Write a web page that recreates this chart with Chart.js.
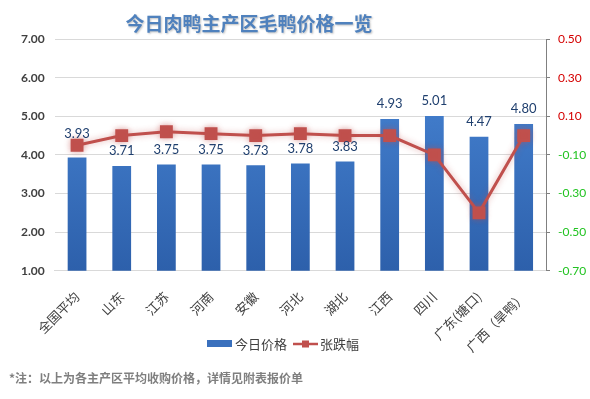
<!DOCTYPE html>
<html>
<head>
<meta charset="utf-8">
<script src="https://cdn.jsdelivr.net/npm/chart.js@4/dist/chart.umd.min.js"></script>
<style>
  html, body { margin: 0; padding: 0; background: #fff; }
  #wrap { width: 590px; height: 399px; position: relative; }
</style>
</head>
<body>
<div id="wrap"><canvas id="chart" width="590" height="399"></canvas></div>
<script>
// data
const categories = ['全国平均', '山东', '江苏', '河南', '安徽', '河北', '湖北', '江西', '四川', '广东(塘口)', '广西（旱鸭）'];
const prices = [3.93, 3.71, 3.75, 3.75, 3.73, 3.78, 3.83, 4.93, 5.01, 4.47, 4.80];
const changes = [-0.05, 0.00, 0.02, 0.01, 0.00, 0.01, 0.00, 0.00, -0.10, -0.40, 0.00];
const priceTicks = [1, 2, 3, 4, 5, 6, 7];
const changeTicks = [-0.7, -0.5, -0.3, -0.1, 0.1, 0.3, 0.5];

const titleText = '今日肉鸭主产区毛鸭价格一览';
const noteText = '*注：以上为各主产区平均收购价格，详情见附表报价单';
const legendNames = ['今日价格', '张跌幅'];

const CJK = "'Noto Sans CJK SC', sans-serif";
const NUM = "Lato, 'Noto Sans CJK SC', sans-serif";
Chart.defaults.font.family = NUM;

const BAR_TOP = '#4a88d8';
const BAR_BOTTOM = '#2d60ab';
const LINE = '#c0504d';

function barGradient(context) {
    const area = context.chart.chartArea;
    if (!area) return BAR_TOP;
    const g = context.chart.ctx.createLinearGradient(0, area.top, 0, area.bottom);
    g.addColorStop(0, BAR_TOP);
    g.addColorStop(1, BAR_BOTTOM);
    return g;
}

// title, value labels, legend and footnote
const decorations = {
    id: 'decorations',
    beforeDatasetDraw(chart, args) {
        if (args.index === 1) {
            const ctx = chart.ctx;
            ctx.save();
            ctx.shadowColor = 'rgba(192, 80, 77, 0.45)';
            ctx.shadowBlur = 6;
        }
    },
    afterDatasetDraw(chart, args) {
        if (args.index === 1) chart.ctx.restore();
    },
    afterDatasetsDraw(chart) {
        const ctx = chart.ctx;
        const bars = chart.getDatasetMeta(0).data;
        const points = chart.getDatasetMeta(1).data;
        ctx.save();
        ctx.font = '13px ' + NUM;
        ctx.fillStyle = '#1f3f6e';
        ctx.textAlign = 'center';
        ctx.textBaseline = 'middle';
        bars.forEach((bar, i) => {
            let y = bar.y - 15;
            const py = points[i].y;
            // keep the label clear of the line marker
            if (Math.abs(y - py) < 8) y = py - 11;
            ctx.fillText(prices[i].toFixed(2), bar.x, y);
        });
        ctx.restore();
    },
    afterDraw(chart) {
        const ctx = chart.ctx;
        ctx.save();
        // title
        ctx.font = 'bold 19px ' + CJK;
        ctx.textAlign = 'center';
        ctx.textBaseline = 'middle';
        ctx.shadowColor = 'rgba(0,0,0,0.25)';
        ctx.shadowOffsetX = 1;
        ctx.shadowOffsetY = 1;
        ctx.shadowBlur = 2;
        ctx.fillStyle = '#4f81bd';
        ctx.fillText(titleText, 249, 24);
        ctx.shadowColor = 'transparent';

        // legend
        const ly = 344;
        ctx.fillStyle = '#3a70bd';
        ctx.fillRect(207, ly - 4, 25, 7);
        ctx.font = '13px ' + CJK;
        ctx.textAlign = 'left';
        ctx.fillStyle = '#404040';
        ctx.fillText(legendNames[0], 235, ly);
        ctx.strokeStyle = LINE;
        ctx.lineWidth = 2.5;
        ctx.beginPath();
        ctx.moveTo(293, ly);
        ctx.lineTo(318, ly);
        ctx.stroke();
        ctx.fillStyle = LINE;
        ctx.fillRect(302, ly - 3.5, 7, 7);
        ctx.fillStyle = '#404040';
        ctx.fillText(legendNames[1], 320, ly);

        // footnote
        ctx.font = 'bold 12px ' + CJK;
        ctx.fillStyle = '#7f7f7f';
        ctx.fillText(noteText, 9, 378);
        ctx.restore();
    }
};

new Chart(document.getElementById('chart'), {
    data: {
        labels: categories,
        datasets: [
            {
                type: 'bar',
                label: legendNames[0],
                data: prices,
                yAxisID: 'y',
                backgroundColor: barGradient,
                barPercentage: 0.42,
                categoryPercentage: 1,
                order: 2
            },
            {
                type: 'line',
                label: legendNames[1],
                data: changes,
                yAxisID: 'y1',
                borderColor: LINE,
                backgroundColor: LINE,
                borderWidth: 3,
                pointStyle: 'rect',
                pointRadius: 7,
                pointBackgroundColor: LINE,
                pointBorderColor: LINE,
                tension: 0,
                order: 1
            }
        ]
    },
    options: {
        responsive: false,
        animation: false,
        layout: { padding: { top: 39, left: 11, right: 0, bottom: 34 } },
        plugins: {
            legend: { display: false },
            title: { display: false },
            tooltip: { enabled: false }
        },
        scales: {
            x: {
                grid: { display: false },
                border: { color: '#d9d9d9' },
                ticks: {
                    color: '#404040',
                    font: { size: 13, family: CJK },
                    minRotation: 45,
                    maxRotation: 45,
                    autoSkip: false,
                    padding: 10
                }
            },
            y: {
                position: 'left',
                min: 1,
                max: 7,
                afterBuildTicks: axis => { axis.ticks = priceTicks.map(v => ({ value: v })); },
                grid: { color: '#d9d9d9', drawTicks: false },
                border: { display: false },
                ticks: {
                    color: '#404040',
                    font: { size: 12, weight: 'bold' },
                    padding: 10,
                    callback: v => Number(v).toFixed(2)
                }
            },
            y1: {
                position: 'right',
                min: -0.7,
                max: 0.5,
                afterBuildTicks: axis => { axis.ticks = changeTicks.map(v => ({ value: v })); },
                afterFit: axis => { axis.width = 44; },
                grid: { drawOnChartArea: false, color: '#808080', tickLength: 4 },
                border: { display: true, color: '#808080' },
                ticks: {
                    font: { size: 12 },
                    padding: 8,
                    color: c => (c.tick && c.tick.value < 0 ? '#22c322' : '#d40000'),
                    callback: v => Number(v).toFixed(2)
                }
            }
        }
    },
    plugins: [decorations]
});
</script>
</body>
</html>
